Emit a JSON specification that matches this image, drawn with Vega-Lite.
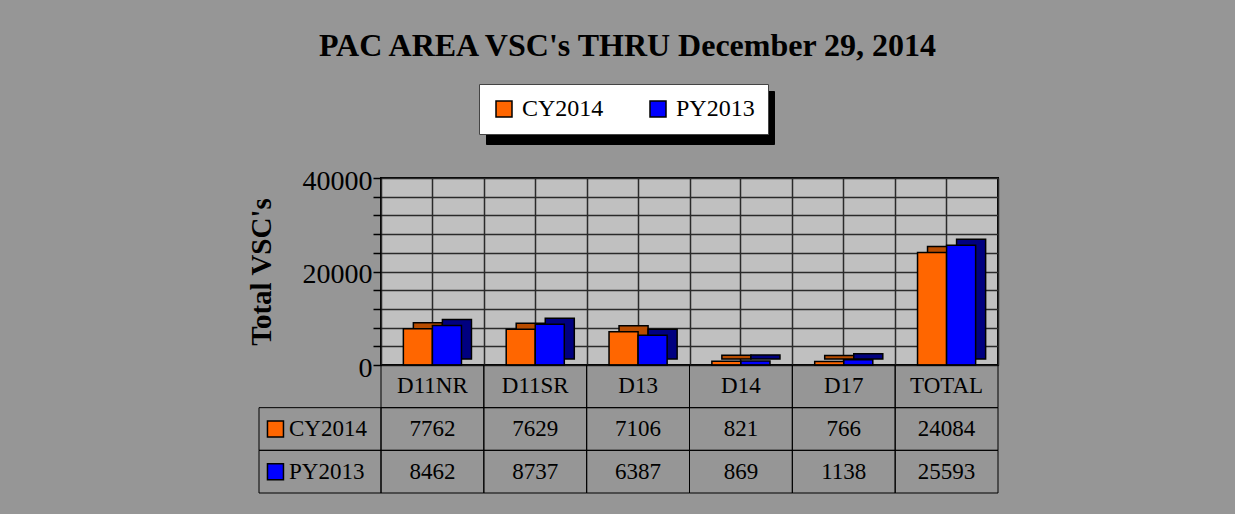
{
  "$schema": "https://vega.github.io/schema/vega-lite/v6.json",
  "background": "#969696",
  "padding": {"left": 246, "top": 29, "right": 239, "bottom": 20},
  "title": {"text": "PAC AREA VSC's THRU December 29, 2014", "font": "Liberation Serif", "fontSize": 32, "fontWeight": "bold", "color": "black", "anchor": "middle", "offset": 20, "dx": 5},
  "datasets": {
    "vsc": [
      {"cat": "D11NR", "series": "CY2014", "value": 7762},
      {"cat": "D11NR", "series": "PY2013", "value": 8462},
      {"cat": "D11SR", "series": "CY2014", "value": 7629},
      {"cat": "D11SR", "series": "PY2013", "value": 8737},
      {"cat": "D13", "series": "CY2014", "value": 7106},
      {"cat": "D13", "series": "PY2013", "value": 6387},
      {"cat": "D14", "series": "CY2014", "value": 821},
      {"cat": "D14", "series": "PY2013", "value": 869},
      {"cat": "D17", "series": "CY2014", "value": 766},
      {"cat": "D17", "series": "PY2013", "value": 1138},
      {"cat": "TOTAL", "series": "CY2014", "value": 24084},
      {"cat": "TOTAL", "series": "PY2013", "value": 25593}
    ]
  },
  "spacing": 0,
  "bounds": "flush",
  "vconcat": [
    {
      "width": 617,
      "height": 187,
      "data": {"name": "vsc"},
      "view": {"fill": "#c0c0c0", "stroke": "black", "strokeWidth": 2},
      "layer": [
        {
          "mark": {"type": "bar", "opacity": 0},
          "encoding": {
            "x": {"field": "cat", "type": "nominal", "sort": ["D11NR", "D11SR", "D13", "D14", "D17", "TOTAL"], "scale": {"paddingInner": 0, "paddingOuter": 0},
                  "axis": {"grid": true, "labels": false, "ticks": false, "domain": false, "title": null, "gridColor": "#2a2a2a", "gridWidth": 1.5}},
            "y": {"field": "value", "type": "quantitative", "scale": {"domain": [0, 40000], "nice": false},
                  "axis": {"values": [0, 4000, 8000, 12000, 16000, 20000, 24000, 28000, 32000, 36000, 40000], "format": "d",
                           "labelExpr": "datum.value % 20000 === 0 ? datum.label : ''",
                           "grid": true, "gridColor": "#2a2a2a", "gridWidth": 1.5, "domain": false,
                           "tickSize": 8, "tickColor": "black", "tickWidth": 1.5,
                           "labelFont": "Liberation Serif", "labelFontSize": 28, "labelColor": "black", "labelPadding": 1, "labelOffset": 3, "labelFlush": false, "labelOverlap": false,
                           "title": "Total VSC's", "titleFont": "Liberation Serif", "titleFontSize": 29, "titleFontWeight": "bold", "titleColor": "black", "titlePadding": 26}}
          }
        },
        {
          "mark": {"type": "bar", "stroke": "black", "strokeWidth": 1.5},
          "encoding": {
            "x": {"field": "cat", "type": "nominal", "sort": ["D11NR", "D11SR", "D13", "D14", "D17", "TOTAL"], "scale": {"paddingInner": 0, "paddingOuter": 0, "range": [10, 627]}, "axis": null},
            "xOffset": {"field": "series", "type": "nominal", "sort": ["CY2014", "PY2013"], "scale": {"paddingInner": 0, "paddingOuter": 0.77}},
            "y": {"field": "value", "type": "quantitative", "scale": {"domain": [0, 40000], "nice": false, "range": [181, -6]}, "axis": null},
            "color": {"field": "series", "type": "nominal", "scale": {"domain": ["CY2014", "PY2013"], "range": ["#b84c00", "#000080"]},
                      "legend": {"title": null, "orient": "none", "legendX": 105, "legendY": -87, "direction": "horizontal", "fillColor": "black", "strokeColor": "black", "padding": 13,
                                 "symbolType": "square", "symbolSize": 676, "symbolOpacity": 0, "labelExpr": "''", "labelFontSize": 24, "labelOffset": 82, "columnPadding": 42, "zindex": 0}}
          }
        },
        {
          "mark": {"type": "bar", "stroke": "black", "strokeWidth": 1.5},
          "encoding": {
            "x": {"field": "cat", "type": "nominal", "sort": ["D11NR", "D11SR", "D13", "D14", "D17", "TOTAL"], "scale": {"paddingInner": 0, "paddingOuter": 0},
                  "axis": {"grid": true, "tickBand": "extent", "labels": false, "ticks": false, "domain": false, "title": null, "gridColor": "#2a2a2a", "gridWidth": 1.5}},
            "xOffset": {"field": "series", "type": "nominal", "sort": ["CY2014", "PY2013"], "scale": {"paddingInner": 0, "paddingOuter": 0.77}},
            "y": {"field": "value", "type": "quantitative", "scale": {"domain": [0, 40000], "nice": false}, "axis": null},
            "color": {"field": "series", "type": "nominal", "scale": {"domain": ["CY2014", "PY2013"], "range": ["#ff6600", "#0000ff"]},
                      "legend": {"title": null, "orient": "none", "legendX": 98, "legendY": -94, "direction": "horizontal", "fillColor": "white", "strokeColor": "#444444", "padding": 13,
                                 "symbolType": "square", "symbolSize": 256, "symbolStrokeColor": "black", "symbolStrokeWidth": 1.5, "symbolOpacity": 1,
                                 "labelFont": "Liberation Serif", "labelFontSize": 24, "labelColor": "black", "labelOffset": 6, "columnPadding": 42, "zindex": 1}}
          }
        }
      ],
      "resolve": {"scale": {"x": "independent", "y": "independent", "color": "independent"}}
    },
    {
      "width": 617,
      "height": 128,
      "data": {"name": "vsc"},
      "view": {"stroke": null},
      "layer": [
        {
          "mark": {"type": "rect", "filled": false, "stroke": "black", "strokeWidth": 1},
          "encoding": {
            "x": {"field": "cat", "type": "nominal", "sort": ["D11NR", "D11SR", "D13", "D14", "D17", "TOTAL"], "scale": {"paddingInner": 0, "paddingOuter": 0}, "axis": null},
            "y": {"field": "series", "type": "nominal", "scale": {"domain": ["header", "CY2014", "PY2013"], "paddingInner": 0, "paddingOuter": 0}, "axis": null}
          }
        },
        {
          "transform": [{"filter": "datum.series === 'CY2014'"}],
          "mark": {"type": "rect", "filled": false, "stroke": "black", "strokeWidth": 1},
          "encoding": {
            "x": {"field": "cat", "type": "nominal", "sort": ["D11NR", "D11SR", "D13", "D14", "D17", "TOTAL"], "scale": {"paddingInner": 0, "paddingOuter": 0}, "axis": null},
            "y": {"datum": "header", "type": "nominal"}
          }
        },
        {
          "mark": {"type": "text", "font": "Liberation Serif", "fontSize": 23, "color": "black", "baseline": "middle"},
          "encoding": {
            "x": {"field": "cat", "type": "nominal", "sort": ["D11NR", "D11SR", "D13", "D14", "D17", "TOTAL"], "scale": {"paddingInner": 0, "paddingOuter": 0}, "axis": null},
            "y": {"field": "series", "type": "nominal"},
            "text": {"field": "value", "type": "quantitative", "format": "d"}
          }
        },
        {
          "transform": [{"filter": "datum.series === 'CY2014'"}],
          "mark": {"type": "text", "font": "Liberation Serif", "fontSize": 23, "color": "black", "baseline": "middle"},
          "encoding": {
            "x": {"field": "cat", "type": "nominal", "sort": ["D11NR", "D11SR", "D13", "D14", "D17", "TOTAL"], "scale": {"paddingInner": 0, "paddingOuter": 0}, "axis": null},
            "y": {"datum": "header", "type": "nominal"},
            "text": {"field": "cat", "type": "nominal"}
          }
        },
        {
          "transform": [{"filter": "datum.cat === 'D11NR'"}],
          "mark": {"type": "rect", "filled": false, "stroke": "black", "strokeWidth": 1},
          "encoding": {
            "x": {"datum": 0, "type": "quantitative", "scale": {"domain": [0, 1], "range": [-122, 0], "nice": false, "zero": false}, "axis": null},
            "x2": {"datum": 1},
            "y": {"field": "series", "type": "nominal"}
          }
        },
        {
          "transform": [{"filter": "datum.cat === 'D11NR'"}],
          "mark": {"type": "point", "shape": "square", "filled": true, "stroke": "black", "strokeWidth": 1.5, "size": 256, "opacity": 1},
          "encoding": {
            "x": {"datum": 0.135, "type": "quantitative", "scale": {"domain": [0, 1], "range": [-122, 0], "nice": false, "zero": false}, "axis": null},
            "y": {"field": "series", "type": "nominal"},
            "fill": {"condition": {"test": "datum.series === 'CY2014'", "value": "#ff6600"}, "value": "#0000ff"}
          }
        },
        {
          "transform": [{"filter": "datum.cat === 'D11NR'"}],
          "mark": {"type": "text", "font": "Liberation Serif", "fontSize": 23, "color": "black", "baseline": "middle", "align": "left"},
          "encoding": {
            "x": {"datum": 0.246, "type": "quantitative", "scale": {"domain": [0, 1], "range": [-122, 0], "nice": false, "zero": false}, "axis": null},
            "y": {"field": "series", "type": "nominal"},
            "text": {"field": "series", "type": "nominal"}
          }
        }
      ],
      "resolve": {"scale": {"x": "independent"}}
    }
  ],
  "config": {"font": "Liberation Serif"}
}
